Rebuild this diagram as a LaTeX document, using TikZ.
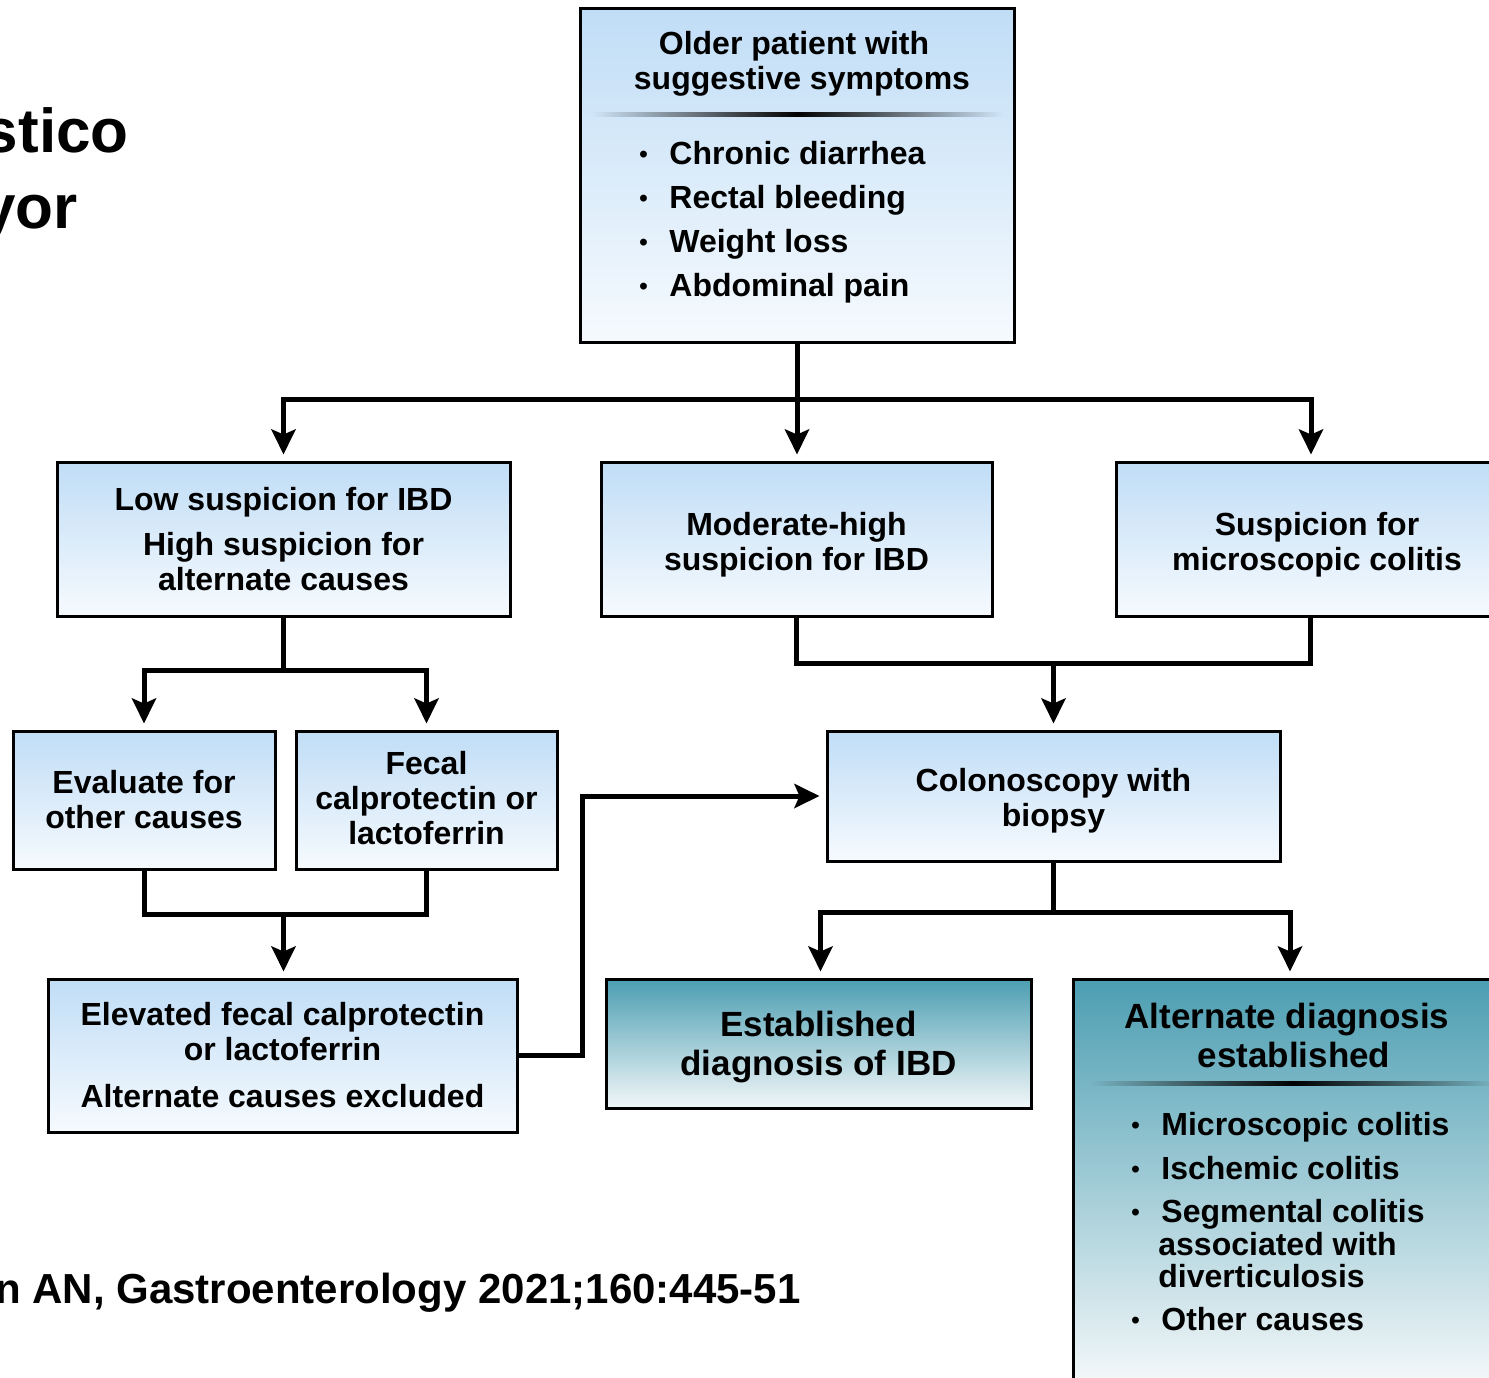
\documentclass[tikz,border=0pt]{standalone}
\usepackage{fontspec}
\setmainfont{Liberation Sans}
\usetikzlibrary{arrows.meta}
\definecolor{bluetop}{RGB}{192,221,246}
\definecolor{bluebot}{RGB}{246,250,254}
\definecolor{tealtop}{RGB}{76,158,178}
\definecolor{tealbot}{RGB}{242,247,249}
\colorlet{sepblue}{bluetop!70!bluebot}
\colorlet{septeal}{tealtop!72!tealbot}
\newcommand\bulglyph{\raisebox{1pt}{\fontsize{12}{12}\selectfont •}}
\newcommand\bul{\makebox[15pt][l]{\bulglyph}}
\newcommand\upstrut[1]{\rule{0pt}{#1}}
\newcommand\dnstrut[1]{\rule[-#1]{0pt}{0pt}}
\begin{document}
\begin{tikzpicture}[x=0.5pt,y=-0.5pt,
 box/.style={draw=black,line width=1.5pt,top color=bluetop,bottom color=bluebot,inner sep=0pt,align=center,font=\fontsize{16}{17.5}\selectfont\bfseries},
 tealbox/.style={box,top color=tealtop,bottom color=tealbot,font=\fontsize{17.5}{19.5}\selectfont\bfseries},
 conn/.style={line width=2.5pt},
 arr/.style={conn,-{Stealth[length=12.5pt,width=12pt,inset=2.5pt]},shorten >=3pt},
 txt/.style={inner sep=0pt,anchor=base west,font=\fontsize{16}{17.5}\selectfont\bfseries},
 ctxt/.style={inner sep=0pt,anchor=base,font=\fontsize{16}{17.5}\selectfont\bfseries},
 ttxt/.style={ctxt,font=\fontsize{17.5}{19.5}\selectfont\bfseries},
 big/.style={inner sep=0pt,anchor=base east,font=\fontsize{31}{31}\selectfont\bfseries}
]
\useasboundingbox (0,0) rectangle (1489,1377);
\clip (0,0) rectangle (1489,1377);

% title fragments and citation
\node[big] (ttl1) at (129,152) {stico};
\node[big] (ttl2) at (78,228) {yor};
\node[inner sep=0pt,anchor=base east,font=\fontsize{21}{21}\selectfont\bfseries] (cite) at (801,1303) {n AN, Gastroenterology 2021;160:445-51};

% boxes
\node[box,minimum width=217pt,minimum height=167pt] (top) at (797,175) {};
\node[box,minimum width=226.5pt,minimum height=77pt] (low) at (283.5,539) {Low suspicion for IBD\\[5pt]High suspicion for\\alternate causes};
\node[box,minimum width=195.5pt,minimum height=77pt] (mod) at (796.5,539) {\upstrut{17pt}Moderate-high\\suspicion for IBD};
\node[box,minimum width=201pt,minimum height=77pt] (micro) at (1317,539) {\upstrut{17pt}Suspicion for\\microscopic colitis};
\node[box,minimum width=131pt,minimum height=69pt] (eval) at (144,800) {Evaluate for\\other causes};
\node[box,minimum width=130.5pt,minimum height=69pt] (fecal) at (426.5,800) {Fecal\\calprotectin or\\lactoferrin\dnstrut{2pt}};
\node[box,minimum width=226.5pt,minimum height=65pt] (colon) at (1053.5,796) {\upstrut{16.5pt}Colonoscopy with\\biopsy};
\node[box,minimum width=234.5pt,minimum height=76.5pt] (elev) at (282.5,1055.5) {Elevated fecal calprotectin\\or lactoferrin\\[6pt]Alternate causes excluded};
\node[tealbox,minimum width=212.5pt,minimum height=64.5pt] (estab) at (818.5,1043.5) {\upstrut{16pt}Established\\diagnosis of IBD};
\node[tealbox,minimum width=214pt,minimum height=200.5pt] (alt) at (1287,1179.5) {};

% top box content
\node[ctxt] (tt1) at (794,54.5) {Older patient with};
\node[ctxt] (tt2) at (802,89) {suggestive symptoms};
\shade[left color=sepblue,right color=sepblue,middle color=black] (592,112) rectangle (1003,116);
\node[txt] (b1) at (639,164) {\bul Chronic diarrhea};
\node[txt] (b2) at (639,208) {\bul Rectal bleeding};
\node[txt] (b3) at (639,252) {\bul Weight loss};
\node[txt] (b4) at (639,296) {\bul Abdominal pain};

% alternate box content
\node[ttxt] (at1) at (1287,1028) {Alternate diagnosis};
\node[ttxt] (at2) at (1294,1067) {established};
\shade[left color=septeal,right color=septeal,middle color=black] (1087,1081) rectangle (1500,1085);
\node[txt] (a1) at (1131,1135) {\bul Microscopic colitis};
\node[txt] (a2) at (1131,1179) {\bul Ischemic colitis};
\node[txt] (a3) at (1131,1222) {\bul Segmental colitis};
\node[txt] (a3b) at (1158,1255) {associated with};
\node[txt] (a3c) at (1158,1287) {diverticulosis};
\node[txt] (a4) at (1131,1330) {\bul Other causes};

% connectors
\coordinate (j1) at (797,399);
\draw[arr] (top.south) -- (top.south |- mod.north);
\draw[arr] (j1) -| (low.north);
\draw[arr] (j1) -| ([xshift=-3pt]micro.north);

\coordinate (j2) at (283.5,670);
\draw[conn] (low.south) -- (j2);
\draw[arr] (j2) -| (eval.north);
\draw[arr] (j2) -| (fecal.north);

\coordinate (j3) at (283.5,914);
\draw[conn] (eval.south) |- (j3) -| (fecal.south);
\draw[arr] (j3) -- (j3 |- elev.north);

\coordinate (j4) at (1053.5,663);
\draw[conn] (mod.south) |- (j4) -| ([xshift=-3.5pt]micro.south);
\draw[arr] (j4) -- (colon.north);

\coordinate (k1) at (582,1000);
\draw[arr] (elev.east) -| (k1) |- (colon.west);

\coordinate (j5) at (1053.5,912);
\draw[conn] (colon.south) -- (j5);
\draw[arr] (j5) -| ([xshift=1pt]estab.north);
\draw[arr] (j5) -| ([xshift=1.5pt]alt.north);
\end{tikzpicture}
\end{document}
